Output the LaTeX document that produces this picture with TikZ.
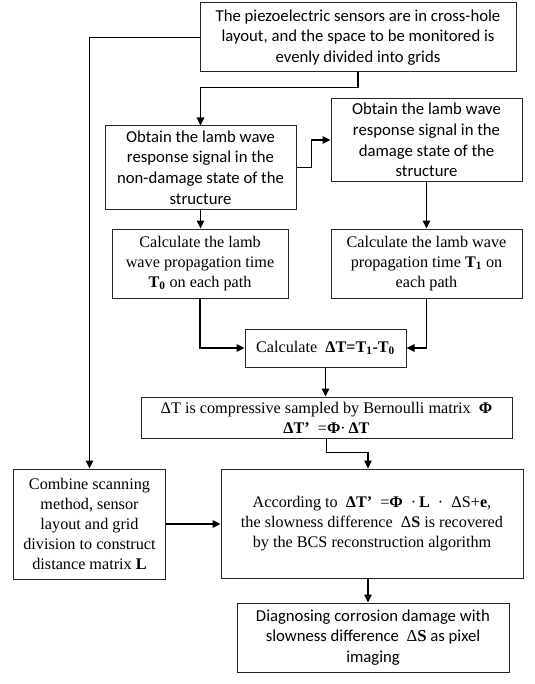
\documentclass[tikz,border=0pt]{standalone}
\usepackage{fontspec}
\setmainfont{Liberation Serif}
\newfontfamily\carlfont{Carlito}
\usetikzlibrary{arrows.meta,calc}
\tikzset{
  box/.style={draw=black!85, line width=1bp, rectangle, inner sep=0pt, align=center},
  cbox/.style={box, font=\carlfont\fontsize{16.7bp}{20.8bp}\selectfont},
  tbox/.style={box, font=\fontsize{16.2bp}{20bp}\selectfont},
  arr/.style={draw=black, line width=1.2bp, -{Triangle[length=8bp,width=7.5bp]}},
  ln/.style={draw=black, line width=1.2bp}
}
\begin{document}
\begin{tikzpicture}[x=1bp,y=-1bp]
\useasboundingbox (0,0) rectangle (535,684);
\node[cbox, minimum width=316bp, minimum height=69bp] (b1) at (358,37.5)
  {The piezoelectric sensors are in cross-hole\\layout, and the space to be monitored is\\evenly divided into grids};
\node[cbox, minimum width=191bp, minimum height=83bp] (b2) at (200.5,167.5)
  {Obtain the lamb wave\\response signal in the\\non-damage state of the\\structure};
\node[cbox, minimum width=191bp, minimum height=82bp] (b3) at (426.5,140)
  {Obtain the lamb wave\\response signal in the\\damage state of the\\structure};
\node[tbox, minimum width=176bp, minimum height=69bp] (b4) at (200,263.5)
  {Calculate the lamb\\wave propagation time\\\textbf{T\textsubscript{0}} on each path};
\node[tbox, minimum width=191bp, minimum height=69bp] (b5) at (426.5,263.5)
  {Calculate the lamb wave\\propagation time \textbf{T\textsubscript{1}} on\\each path};
\node[tbox, minimum width=161bp, minimum height=38bp] (b6) at (325.5,348)
  {Calculate \ \textbf{ΔT=T\textsubscript{1}-T\textsubscript{0}}};
\node[tbox, minimum width=371bp, minimum height=41bp] (b7) at (326.5,417.5)
  {ΔT is compressive sampled by Bernoulli matrix \ \textbf{Φ}\\\textbf{ΔT’} \ =\textbf{Φ}·\,\textbf{ΔT}};
\node[tbox, minimum width=302bp, minimum height=109bp] (b8) at (372,523.5)
  {According to \ \textbf{ΔT’} \ =\textbf{Φ} \ ·\,\textbf{L} \ · \ ΔS+\textbf{e},\\the slowness difference \ Δ\textbf{S} is recovered\\by the BCS reconstruction algorithm};
\node[tbox, minimum width=151bp, minimum height=110bp] (b9) at (89.5,524)
  {Combine scanning\\method, sensor\\layout and grid\\division to construct\\distance matrix \textbf{L}};
\node[cbox, minimum width=272bp, minimum height=69bp] (b10) at (373,637.5)
  {Diagnosing corrosion damage with\\slowness difference \ {\rmfamily Δ\textbf{S}} as pixel\\imaging};
% connectors
\draw[arr] (b1.south) -- ++(0,15) -| (b2.north);
\draw[arr] (b1.west) -| (b9.north);
\draw[arr] (b2.east) -- ++(15,0) |- (b3.west);
\draw[arr] (b2.south) -- (b2.south |- b4.north);
\draw[arr] (b3.south) -- (b3.south |- b5.north);
\draw[arr] (b4.south) |- (b6.west);
\draw[arr] (b5.south) |- (b6.east);
\draw[arr] (b6.south) -- (b6.south |- b7.north);
\draw[arr] (b7.south) -- ++(0,14) -| ([xshift=-4bp]b8.north);
\draw[arr] (b9.east) -- (b9.east -| b8.west);
\draw[arr] ([xshift=-4bp]b8.south) -- ([xshift=-4bp]b8.south |- b10.north);
\end{tikzpicture}
\end{document}
